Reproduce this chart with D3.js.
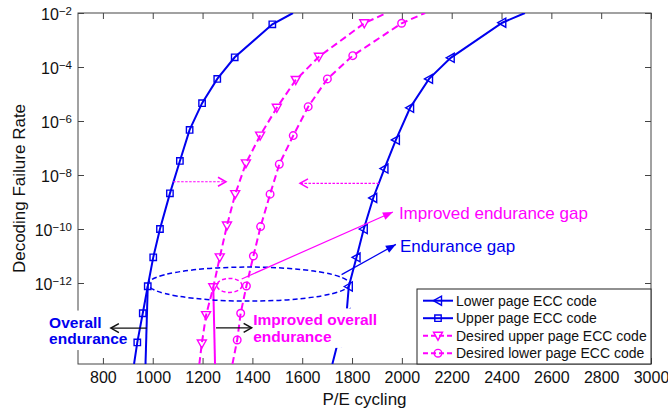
<!DOCTYPE html>
<html>
<head>
<meta charset="utf-8">
<script src="https://cdn.jsdelivr.net/npm/d3@7"></script>
<style>
    body { margin: 0; background: #fff; }
    svg { font-family: Arial, "Liberation Sans", sans-serif; }
</style>
</head>
<body>
<svg id="chart" width="668" height="410"></svg>
<script>
// values: P/E cycles and log10(decoding failure rate)
// first and last points of each series only carry the line to the plot edge
let lowerPE  = [1721, 1743, 1778, 1787, 1818, 1847, 1885, 1930, 1976, 2033, 2109, 2196, 2403, 2494];
let lowerLog = [-15, -14.2, -13.12, -12.13, -11.05, -10.0, -8.85, -7.76, -6.70, -5.51, -4.44, -3.66, -2.36, -2.0];

let upperPE  = [925, 938, 960, 980, 1002, 1029, 1069, 1109, 1148, 1198, 1259, 1329, 1480, 1563];
let upperLog = [-15, -14.2, -13.12, -12.12, -11.05, -10.0, -8.68, -7.48, -6.33, -5.34, -4.44, -3.64, -2.42, -2.0];

let desUpperPE  = [1187, 1197, 1214, 1243, 1269, 1298, 1331, 1374, 1431, 1498, 1574, 1667, 1849, 1939];
let desUpperLog = [-15, -14.24, -13.19, -12.16, -11.05, -9.87, -8.71, -7.57, -6.54, -5.51, -4.48, -3.62, -2.38, -2.0];

let desLowerPE  = [1320, 1339, 1353, 1376, 1404, 1433, 1471, 1508, 1564, 1624, 1701, 1803, 1999, 2093];
let desLowerLog = [-15, -14.11, -13.12, -12.11, -11.0, -9.91, -8.71, -7.60, -6.54, -5.47, -4.44, -3.58, -2.38, -2.0];

let xTicks = [800, 1000, 1200, 1400, 1600, 1800, 2000, 2200, 2400, 2600, 2800, 3000];
let yTickExps = [-12, -10, -8, -6, -4, -2];

let blue = '#0000ee';
let magenta = '#ff00ff';

let series = [
    { name: 'Lower page ECC code', pe: lowerPE, logRate: lowerLog, color: blue, dash: null, marker: 'triLeft' },
    { name: 'Upper page ECC code', pe: upperPE, logRate: upperLog, color: blue, dash: null, marker: 'square' },
    { name: 'Desired upper page ECC code', pe: desUpperPE, logRate: desUpperLog, color: magenta, dash: '7,4', marker: 'triDown' },
    { name: 'Desired lower page ECC code', pe: desLowerPE, logRate: desLowerLog, color: magenta, dash: '7,4', marker: 'circle' }
];

let svg = d3.select('#chart');
let x = d3.scaleLinear().domain([700, 3000]).range([78, 651]);
let y = d3.scaleLog().domain([1e-15, 1e-2]).range([364, 13]);
function ly(e) { return y(Math.pow(10, e)); }

let defs = svg.append('defs');
defs.append('clipPath').attr('id', 'plot-clip')
    .append('rect')
    .attr('x', x.range()[0]).attr('y', y.range()[1])
    .attr('width', x.range()[1] - x.range()[0])
    .attr('height', y.range()[0] - y.range()[1]);

function arrowHead(id, color, filled) {
    let m = defs.append('marker')
        .attr('id', id)
        .attr('viewBox', '-11 -6 13 12')
        .attr('markerUnits', 'userSpaceOnUse')
        .attr('markerWidth', 13).attr('markerHeight', 12)
        .attr('refX', 0).attr('refY', 0)
        .attr('orient', 'auto');
    if (filled) {
        m.append('path').attr('d', 'M-10,-4L0,0L-10,4Z').attr('fill', color);
    } else {
        m.append('path').attr('d', 'M-8,-4.5L0,0L-8,4.5')
            .attr('fill', 'none').attr('stroke', color).attr('stroke-width', 1.5);
    }
}
arrowHead('head-mag-fill', magenta, true);
arrowHead('head-blue-fill', blue, true);
arrowHead('head-mag-open', magenta, false);
arrowHead('head-black-open', '#111', false);

function markerPath(type, cx, cy) {
    switch (type) {
        case 'square':
            return `M${cx - 3.2},${cy - 3.2}h6.4v6.4h-6.4Z`;
        case 'circle':
            return `M${cx - 3.8},${cy}a3.8,3.8 0 1,0 7.6,0a3.8,3.8 0 1,0 -7.6,0`;
        case 'triLeft':
            return `M${cx - 4.5},${cy}L${cx + 3.5},${cy - 4.5}L${cx + 3.5},${cy + 4.5}Z`;
        case 'triDown':
            return `M${cx - 4.5},${cy - 3.5}L${cx + 4.5},${cy - 3.5}L${cx},${cy + 4.5}Z`;
    }
}

// axes: inward ticks on all four sides
let tickLen = 6;
svg.append('g').attr('class', 'x-axis')
    .attr('transform', `translate(0,${y.range()[0]})`)
    .call(d3.axisBottom(x).tickValues(xTicks).tickFormat(d3.format('d'))
        .tickSizeInner(-tickLen).tickSizeOuter(0).tickPadding(7.3));
svg.append('g')
    .attr('transform', `translate(0,${y.range()[1]})`)
    .call(d3.axisTop(x).tickValues(xTicks).tickSizeInner(-tickLen).tickSizeOuter(0).tickFormat(''));
svg.append('g')
    .attr('transform', `translate(${x.range()[0]},0)`)
    .call(d3.axisLeft(y).tickValues(yTickExps.map(e => Math.pow(10, e))).tickSizeInner(-tickLen).tickSizeOuter(0).tickFormat(''));
svg.append('g')
    .attr('transform', `translate(${x.range()[1]},0)`)
    .call(d3.axisRight(y).tickValues(yTickExps.map(e => Math.pow(10, e))).tickSizeInner(-tickLen).tickSizeOuter(0).tickFormat(''));
svg.selectAll('.domain').remove();
svg.selectAll('.tick line').attr('stroke', '#444');
svg.selectAll('.x-axis text').attr('font-size', 16).attr('fill', '#111')
    .attr('font-family', 'Arial, "Liberation Sans", sans-serif');

let yLabels = svg.append('g').selectAll('text')
    .data(yTickExps)
    .enter().append('text')
    .attr('x', 72)
    .attr('y', d => ly(d) + 6.5)
    .attr('text-anchor', 'end')
    .attr('font-size', 16)
    .attr('fill', '#111');
yLabels.append('tspan').text('10');
yLabels.append('tspan').attr('dy', -5).attr('font-size', 11.5).text(d => String(d).replace('-', '\u2212'));

svg.append('rect')
    .attr('x', x.range()[0]).attr('y', y.range()[1])
    .attr('width', x.range()[1] - x.range()[0])
    .attr('height', y.range()[0] - y.range()[1])
    .attr('fill', 'none').attr('stroke', '#444');

svg.append('text')
    .attr('x', (x.range()[0] + x.range()[1]) / 2).attr('y', 404.5)
    .attr('text-anchor', 'middle').attr('font-size', 17).attr('fill', '#111')
    .text('P/E cycling');
svg.append('text')
    .attr('transform', `translate(25,${(y.range()[0] + y.range()[1]) / 2}) rotate(-90)`)
    .attr('text-anchor', 'middle').attr('font-size', 17).attr('fill', '#111')
    .text('Decoding Failure Rate');

// curves
let plot = svg.append('g').attr('clip-path', 'url(#plot-clip)');
let line = d3.line().x(d => x(d[0])).y(d => ly(d[1]));

series.forEach(function (s) {
    let pts = s.pe.map((p, i) => [p, s.logRate[i]]);
    plot.append('path')
        .datum(pts)
        .attr('d', line)
        .attr('fill', 'none')
        .attr('stroke', s.color)
        .attr('stroke-width', 2)
        .attr('stroke-dasharray', s.dash);
    plot.selectAll(null)
        .data(pts.slice(1, -1))
        .enter().append('path')
        .attr('d', d => markerPath(s.marker, x(d[0]), ly(d[1])))
        .attr('fill', 'none')
        .attr('stroke', s.color)
        .attr('stroke-width', 1.4);
});

// annotations, in data units (P/E, log10 rate)
let endurancePE = [[980, -12.12], [971, -15]];
let improvedPE = [[1243, -12.14], [1250, -15]];
let gapEllipse = { cx: 1386, cy: -12.04, rx: 405, ry: 0.63 };
let smallEllipse = { cx: 1308, cy: -12.09, rx: 50, ry: 0.26 };

let ann = svg.append('g').attr('clip-path', 'url(#plot-clip)');
ann.append('path').datum(endurancePE).attr('d', line)
    .attr('stroke', blue).attr('stroke-width', 2).attr('fill', 'none');
ann.append('path').datum(improvedPE).attr('d', line)
    .attr('stroke', magenta).attr('stroke-width', 2).attr('fill', 'none');

function ellipse(e, color, dash) {
    ann.append('ellipse')
        .attr('cx', x(e.cx)).attr('cy', ly(e.cy))
        .attr('rx', x(e.cx + e.rx) - x(e.cx))
        .attr('ry', ly(e.cy - e.ry) - ly(e.cy))
        .attr('fill', 'none').attr('stroke', color)
        .attr('stroke-width', 1.5).attr('stroke-dasharray', dash);
}
ellipse(gapEllipse, blue, '5,3');
ellipse(smallEllipse, magenta, '4,2.5');

function arrow(from, to, color, width, dash, head) {
    svg.append('line')
        .attr('x1', x(from[0])).attr('y1', ly(from[1]))
        .attr('x2', x(to[0])).attr('y2', ly(to[1]))
        .attr('stroke', color).attr('stroke-width', width)
        .attr('stroke-dasharray', dash)
        .attr('marker-end', `url(#${head})`);
}

arrow([1357, -11.85], [1964, -9.37], magenta, 1.2, null, 'head-mag-fill');
arrow([1758, -11.69], [1976, -10.57], blue, 1.2, null, 'head-blue-fill');
arrow([1082, -8.25], [1294, -8.25], magenta, 1.2, '2.5,1.5', 'head-mag-open');
arrow([1908, -8.31], [1591, -8.31], magenta, 1.2, '2.5,1.5', 'head-mag-open');

function label(pos, lines, color, size, weight, boxed) {
    let t = svg.append('text')
        .attr('x', x(pos[0])).attr('y', ly(pos[1]))
        .attr('font-size', size).attr('font-weight', weight)
        .attr('fill', color);
    lines.forEach(function (l, i) {
        t.append('tspan').attr('x', x(pos[0])).attr('dy', i ? 16.5 : 0).text(l);
    });
    if (boxed) {
        let b = t.node().getBBox();
        svg.insert('rect', () => t.node())
            .attr('x', b.x - 3).attr('y', b.y - 3)
            .attr('width', b.width + 6).attr('height', b.height + 6)
            .attr('fill', '#fff');
    }
}

label([1988, -9.64], ['Improved endurance gap'], magenta, 17, 'normal', false);
label([1992, -10.85], ['Endurance gap'], blue, 17, 'normal', false);
label([584, -13.65], ['Overall', 'endurance'], blue, 15.5, 'bold', true);
label([1403, -13.57], ['Improved overall', 'endurance'], magenta, 15.5, 'bold', true);

arrow([976, -13.67], [832, -13.67], '#111', 1.3, null, 'head-black-open');
arrow([1254, -13.66], [1397, -13.66], '#111', 1.3, null, 'head-black-open');

// legend, bottom-right corner of the axes
let legend = svg.append('g').attr('transform', `translate(417,${y.range()[0] - 75})`);
legend.append('rect')
    .attr('width', x.range()[1] - 417).attr('height', 75)
    .attr('fill', '#fff').attr('stroke', '#222');
let rows = legend.selectAll('g.row')
    .data(series)
    .enter().append('g')
    .attr('transform', (d, i) => `translate(0,${11.7 + i * 17.5})`);
rows.append('line')
    .attr('x1', 6).attr('x2', 36)
    .attr('stroke', d => d.color).attr('stroke-width', 2)
    .attr('stroke-dasharray', d => d.dash ? '5,3' : null);
rows.append('path')
    .attr('d', d => markerPath(d.marker, 21, 0))
    .attr('fill', 'none').attr('stroke', d => d.color).attr('stroke-width', 1.4);
rows.append('text')
    .attr('x', 39).attr('dy', '0.35em')
    .attr('font-size', 14).attr('fill', '#111')
    .text(d => d.name);
</script>
</body>
</html>
